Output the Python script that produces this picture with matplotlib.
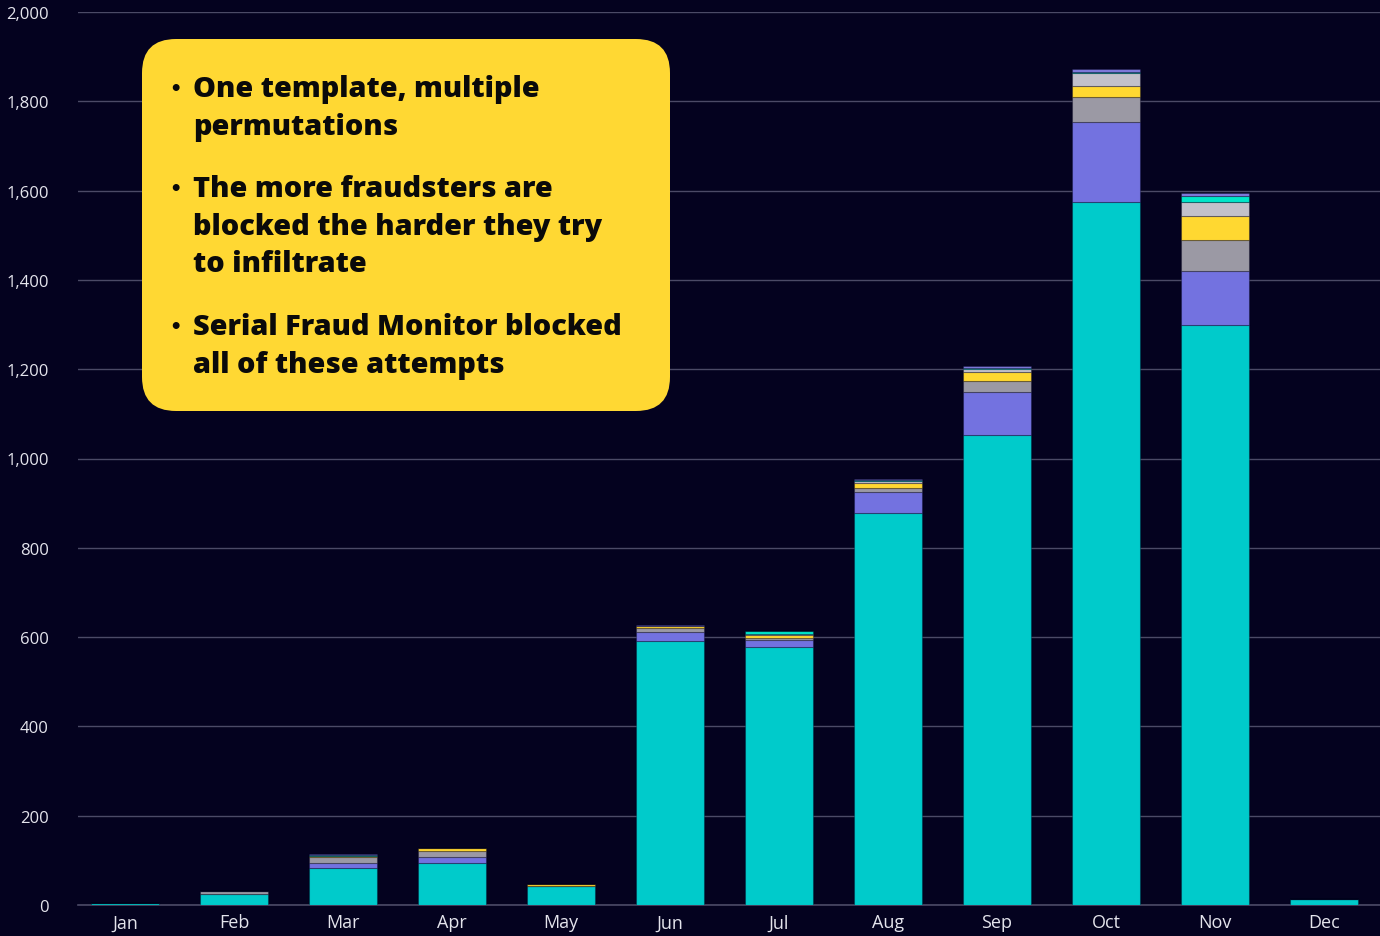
import matplotlib
matplotlib.use("Agg")
import matplotlib.pyplot as plt
import numpy as np
from matplotlib.patches import FancyBboxPatch
from matplotlib.transforms import IdentityTransform

# monthly blocked attempts, stacked by template variant (bottom to top)
months = ['Jan', 'Feb', 'Mar', 'Apr', 'May', 'Jun', 'Jul', 'Aug', 'Sep', 'Oct', 'Nov', 'Dec']
variant_a = [4, 25, 82, 95, 42, 592, 577, 879, 1053, 1574, 1299, 13]
variant_b = [0, 0, 13, 13, 0, 19, 16, 46, 95, 180, 121, 0]
variant_c = [0, 6, 12, 12, 0, 9, 4, 9, 25, 56, 69, 0]
variant_d = [0, 0, 2, 7, 4, 5, 7, 11, 21, 25, 55, 0]
variant_e = [0, 0, 0, 0, 0, 0, 4, 4, 6, 28, 30, 0]
variant_f = [0, 0, 4, 0, 0, 0, 5, 2, 3, 3, 15, 0]
variant_g = [0, 1, 1, 0, 1, 1, 0, 2, 4, 6, 5, 0]

series = [variant_a, variant_b, variant_c, variant_d, variant_e, variant_f, variant_g]
colors = ['#00CBCB', '#7372E0', '#9B99A4', '#FFD831', '#C2C1CA', '#00E6C9', '#7F7ADD']

bullets = [
    ['One template, multiple', 'permutations'],
    ['The more fraudsters are', 'blocked the harder they try', 'to infiltrate'],
    ['Serial Fraud Monitor blocked', 'all of these attempts'],
]

bg = '#04021F'
grid_col = '#4B4A66'
label_col = '#E4E4EC'

fig = plt.figure(figsize=(13.8, 9.37), dpi=100, facecolor=bg)
ax = fig.add_axes([78 / 1380, 31 / 937, 1 - 78 / 1380, (906 - 13) / 937])
ax.set_facecolor(bg)

x = np.arange(len(months))
bottom = np.zeros(len(months))
for vals, col in zip(series, colors):
    ax.bar(x, vals, width=0.62, bottom=bottom, color=col,
           edgecolor=(0, 0, 0.1, 0.3), linewidth=0.8, zorder=3)
    bottom += np.array(vals)

ax.set_ylim(0, 2000)
ax.set_xlim(-0.431, 11.514)
ax.set_yticks(range(0, 2001, 200))
ax.set_yticklabels(['0' if v == 0 else f'{v:,}' for v in range(0, 2001, 200)])
ax.set_xticks(x)
ax.set_xticklabels(months)
ax.grid(axis='y', color=grid_col, linewidth=1, zorder=0)
for s in ['top', 'right', 'left']:
    ax.spines[s].set_visible(False)
ax.spines['bottom'].set_color(grid_col)
ax.spines['bottom'].set_linewidth(1.2)
ax.tick_params(axis='y', length=0, pad=21, labelsize=12, labelcolor=label_col)
ax.tick_params(axis='x', length=0, pad=6, labelsize=13, labelcolor=label_col)
for t in ax.get_xticklabels() + ax.get_yticklabels():
    t.set_fontfamily('Open Sans')

# yellow callout box, placed in pixel coordinates
box = FancyBboxPatch((142, 937 - 412), 528, 372,
                     boxstyle='round,pad=0,rounding_size=34',
                     facecolor='#FFD833', edgecolor='none',
                     transform=IdentityTransform(), zorder=10)
fig.add_artist(box)

line_y = [[90, 127], [190, 228, 265], [328, 366]]
for lines, ys in zip(bullets, line_y):
    fig.text(175 / 1380, 1 - ys[0] / 937, '•', fontsize=14, color='#0A0A0A',
             ha='center', va='center', zorder=11, fontweight='bold')
    for line, y in zip(lines, ys):
        fig.text(193 / 1380, 1 - y / 937, line, fontsize=20.8, color='#0A0A0A',
                 family='Open Sans', fontweight='heavy',
                 ha='left', va='center', zorder=11)

fig.savefig('out.png', dpi=100, facecolor=bg)
